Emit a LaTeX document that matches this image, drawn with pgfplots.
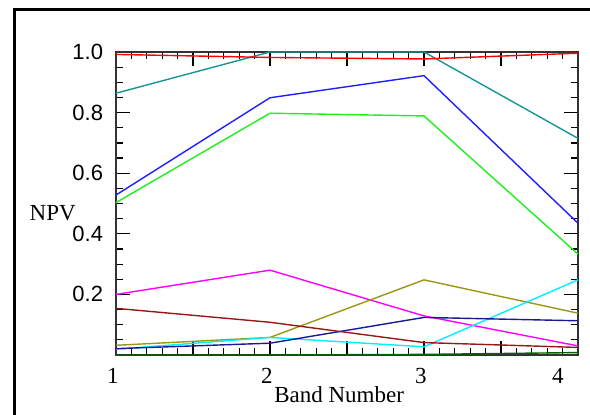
\documentclass[border=0pt]{standalone}
\usepackage{fontspec}
\setmainfont{Liberation Serif}
\newfontfamily\helv{Liberation Sans}
\usepackage{pgfplots}
\pgfplotsset{compat=1.18}
\definecolor{cred}{RGB}{255,0,0}
\definecolor{cteal}{RGB}{20,150,150}
\definecolor{cblue}{RGB}{30,30,255}
\definecolor{cgreen}{RGB}{30,240,30}
\definecolor{cmag}{RGB}{255,0,255}
\definecolor{colive}{RGB}{155,150,20}
\definecolor{ccyan}{RGB}{0,240,255}
\definecolor{cnavy}{RGB}{25,25,150}
\definecolor{cdred}{RGB}{150,25,25}
\definecolor{cdgreen}{RGB}{0,100,0}
\begin{document}
\begin{tikzpicture}
\useasboundingbox (0,0) rectangle (295pt,207pt);
% outer frame, only top and left edges are visible
\draw[line width=1.5pt] (7.25pt,-5pt) -- (7.25pt,202.35pt) -- (300pt,202.35pt);
\begin{axis}[
    at={(58pt,29.5pt)}, anchor=south west,
    scale only axis, width=231pt, height=151.5pt,
    xmin=1, xmax=4, ymin=0, ymax=1,
    xtick={1,1.5,...,4},
    xticklabels={1,,2,,3,,4\kern17pt},
    minor x tick num=4,
    ytick={0,0.2,...,1},
    yticklabels={,0.2,0.4,0.6,0.8,1.0},
    minor y tick num=3,
    tick align=inside,
    major tick length=7pt, minor tick length=3.5pt,
    tick style={black, line width=0.6pt},
    axis line style={line width=0.9pt, black!80},
    xticklabel style={font=\fontsize{11.5}{12}\selectfont, inner sep=0pt, anchor=north, yshift=-6.5pt, xshift=-1.5pt},
    yticklabel style={font=\helv\fontsize{11}{12}\selectfont, inner sep=0pt, anchor=east, xshift=-6.3pt},
    xlabel={Band Number}, ylabel={NPV},
    xlabel style={at={(axis description cs:0.483,-0.158)}, anchor=base, font=\fontsize{11.5}{12}\selectfont},
    ylabel style={at={(axis description cs:-0.137,0.443)}, anchor=base, rotate=-90, font=\fontsize{11.5}{12}\selectfont},
    clip=false,
    every axis plot/.append style={line width=0.7pt},
]
\addplot[cdgreen] coordinates {(1,0.0) (2,0.0) (3,0.002) (4,0.008)};
\addplot[cteal] coordinates {(1,0.864) (2,1.0) (3,1.0) (4,0.715)};
\addplot[cred] coordinates {(1,0.992) (2,0.982) (3,0.977) (4,0.996)};
\addplot[cblue] coordinates {(1,0.528) (2,0.849) (3,0.922) (4,0.435)};
\addplot[cgreen] coordinates {(1,0.503) (2,0.798) (3,0.789) (4,0.333)};
\addplot[cmag] coordinates {(1,0.2) (2,0.28) (3,0.129) (4,0.03)};
\addplot[colive] coordinates {(1,0.032) (2,0.058) (3,0.248) (4,0.138)};
\addplot[ccyan] coordinates {(1,0.019) (2,0.058) (3,0.027) (4,0.248)};
\addplot[cnavy] coordinates {(1,0.021) (2,0.039) (3,0.124) (4,0.113)};
\addplot[cdred] coordinates {(1,0.154) (2,0.108) (3,0.041) (4,0.025)};
\end{axis}
\end{tikzpicture}
\end{document}
